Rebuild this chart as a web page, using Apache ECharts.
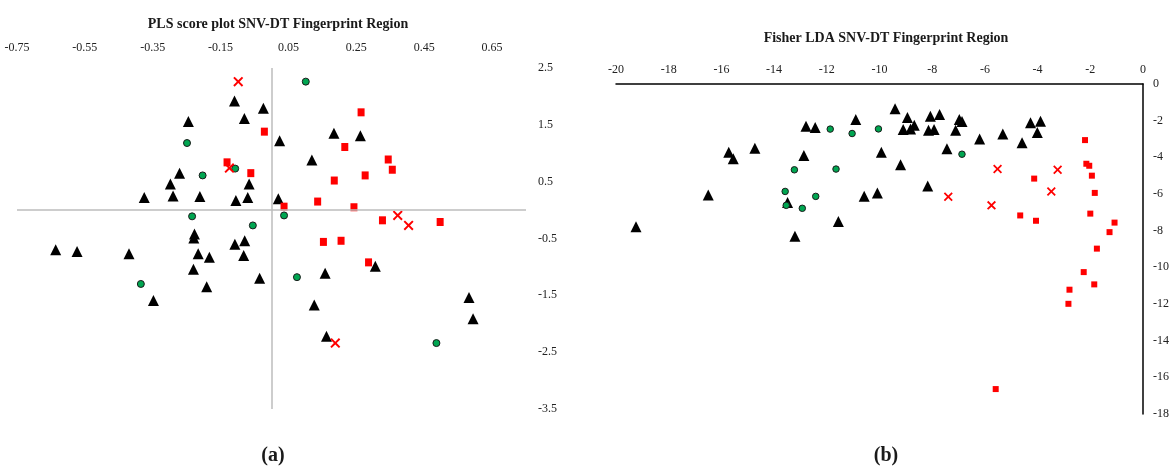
<!DOCTYPE html>
<html><head><meta charset="utf-8">
<script src="https://cdn.jsdelivr.net/npm/echarts@6/dist/echarts.min.js"></script>
<style>html,body{margin:0;padding:0;background:#fff}#c{width:1172px;height:468px}</style>
</head><body><div id="c"></div>
<script>
// ---- Panel (a): PLS score plot ----
const plsTriangles = [
 [-0.109,1.92],[-0.024,1.79],[-0.080,1.61],[-0.245,1.56],[0.184,1.35],[0.262,1.31],[0.024,1.22],
 [0.119,0.88],[-0.271,0.65],[-0.298,0.46],[-0.066,0.46],[-0.375,0.22],[-0.290,0.25],[-0.211,0.24],
 [-0.105,0.17],[-0.070,0.22],[0.020,0.20],[-0.227,-0.42],[-0.229,-0.49],[-0.636,-0.70],[-0.573,-0.73],
 [-0.420,-0.77],[-0.216,-0.77],[-0.183,-0.83],[-0.108,-0.60],[-0.079,-0.54],[-0.082,-0.80],[-0.230,-1.04],
 [-0.035,-1.20],[-0.191,-1.35],[-0.348,-1.59],[0.158,-1.11],[0.306,-0.99],[0.126,-1.67],[0.162,-2.22],
 [0.582,-1.54],[0.594,-1.91]
];
const plsSquares = [
 [0.264,1.72],[-0.021,1.38],[0.216,1.11],[0.344,0.89],[0.356,0.71],[-0.131,0.84],[-0.061,0.65],
 [0.276,0.61],[0.185,0.52],[0.136,0.15],[0.243,0.05],[0.037,0.06],[0.327,-0.18],[0.497,-0.21],
 [0.153,-0.56],[0.205,-0.54],[0.286,-0.92]
];
const plsCircles = [
 [0.101,2.26],[-0.249,1.18],[-0.203,0.61],[-0.107,0.73],[-0.234,-0.11],[0.037,-0.094],[-0.055,-0.27],
 [-0.385,-1.30],[0.075,-1.18],[0.486,-2.34]
];
const plsCrosses = [
 [-0.098,2.26],[-0.124,0.74],[0.372,-0.094],[0.404,-0.27],[0.188,-2.34]
];
// ---- Panel (b): Fisher LDA ----
const ldaTriangles = [
 [-9.41,-1.35],[-8.94,-1.83],[-8.07,-1.76],[-7.72,-1.67],[-10.9,-1.94],[-12.79,-2.30],[-12.44,-2.37],
 [-9.10,-2.48],[-8.82,-2.45],[-8.68,-2.25],[-8.14,-2.52],[-7.93,-2.48],[-6.97,-1.94],[-6.87,-2.05],
 [-7.11,-2.52],[-4.27,-2.12],[-3.89,-2.03],[-4.01,-2.64],[-6.20,-3.00],[-5.32,-2.73],[-4.59,-3.20],
 [-7.44,-3.53],[-9.93,-3.72],[-12.87,-3.90],[-14.73,-3.51],[-15.72,-3.72],[-15.55,-4.08],[-9.20,-4.41],
 [-8.17,-5.56],[-16.5,-6.06],[-13.49,-6.47],[-10.58,-6.12],[-10.08,-5.94],[-11.56,-7.50],[-19.24,-7.78],
 [-13.21,-8.30]
];
const ldaSquares = [
 [-2.20,-3.06],[-2.15,-4.35],[-2.04,-4.46],[-1.94,-5.00],[-4.13,-5.16],[-1.83,-5.94],[-4.66,-7.17],
 [-4.06,-7.46],[-2.00,-7.07],[-1.08,-7.56],[-1.27,-8.08],[-1.75,-8.98],[-2.25,-10.26],[-1.85,-10.93],
 [-2.79,-11.22],[-2.83,-11.99],[-5.59,-16.64]
];
const ldaCircles = [
 [-11.87,-2.46],[-11.04,-2.70],[-10.04,-2.45],[-6.87,-3.83],[-13.23,-4.68],[-11.65,-4.64],
 [-13.58,-5.86],[-13.54,-6.62],[-12.42,-6.13],[-12.93,-6.78]
];
const ldaCrosses = [
 [-5.52,-4.64],[-3.24,-4.68],[-3.48,-5.86],[-7.39,-6.15],[-5.75,-6.62]
];
const titleA = 'PLS score plot SNV-DT Fingerprint Region';
const titleB = 'Fisher LDA SNV-DT Fingerprint Region';

const crossPath = 'path://M0,1.4 L1.4,0 L5,3.6 L8.6,0 L10,1.4 L6.4,5 L10,8.6 L8.6,10 L5,6.4 L1.4,10 L0,8.6 L3.6,5 Z';
const serif = '"Liberation Serif", "Times New Roman", serif';

const chart = echarts.init(document.getElementById('c'), null, {renderer:'canvas'});
function sc(idx, data, symbol, size, color, border){
  const st = {color:color, opacity:1};
  if (border) { st.borderColor = '#1a1a1a'; st.borderWidth = 1; }
  return {type:'scatter', xAxisIndex:idx, yAxisIndex:idx, data:data, symbol:symbol,
    symbolSize:size, itemStyle:st, z:3, silent:true, animation:false};
}
chart.setOption({
  animation:false,
  title:[
    {text:titleA, left:278, top:17, textAlign:'center', padding:0,
     textStyle:{fontFamily:serif, fontWeight:'bold', fontSize:14, color:'#1a1a1a'}},
    {text:titleB, left:886, top:31, textAlign:'center', padding:0,
     textStyle:{fontFamily:serif, fontWeight:'bold', fontSize:14, color:'#1a1a1a'}},
    {text:'({b|a})', left:273, top:446, textAlign:'center', padding:0,
     textStyle:{fontFamily:serif, fontSize:20, color:'#1a1a1a',
       rich:{b:{fontFamily:serif, fontSize:20, fontWeight:'bold', color:'#1a1a1a'}}}},
    {text:'({b|b})', left:886, top:446, textAlign:'center', padding:0,
     textStyle:{fontFamily:serif, fontSize:20, color:'#1a1a1a',
       rich:{b:{fontFamily:serif, fontSize:20, fontWeight:'bold', color:'#1a1a1a'}}}}
  ],
  grid:[
    {left:17, top:68, width:509, height:341, outerBoundsMode:'none', containLabel:false},
    {left:616, top:84, width:527, height:330, outerBoundsMode:'none', containLabel:false}
  ],
  xAxis:[
    {type:'value', gridIndex:0, position:'top', min:-0.75, max:0.75, interval:0.2,
     axisLine:{show:false}, axisTick:{show:false}, splitLine:{show:false},
     axisLabel:{margin:14, showMaxLabel:false, fontFamily:serif, fontSize:12, color:'#222',
       formatter:v=>v.toFixed(2)}},
    {type:'value', gridIndex:1, position:'top', min:-20, max:0, interval:2,
     axisLine:{show:true, onZero:false, lineStyle:{color:'#000', width:1.5}}, axisTick:{show:false},
     splitLine:{show:false},
     axisLabel:{margin:8, fontFamily:serif, fontSize:12, color:'#222'}}
  ],
  yAxis:[
    {type:'value', gridIndex:0, position:'right', min:-3.5, max:2.5, interval:1,
     axisLine:{show:false}, axisTick:{show:false}, splitLine:{show:false},
     axisLabel:{margin:12, fontFamily:serif, fontSize:12, color:'#222', formatter:v=>v.toFixed(1)}},
    {type:'value', gridIndex:1, position:'right', min:-18, max:0, interval:2,
     axisLine:{show:true, onZero:false, lineStyle:{color:'#000', width:1.5}}, axisTick:{show:false},
     splitLine:{show:false},
     axisLabel:{margin:10, fontFamily:serif, fontSize:12, color:'#222'}}
  ],
  series:[
    {type:'scatter', xAxisIndex:0, yAxisIndex:0, data:[], z:1, silent:true,
     markLine:{silent:true, symbol:'none', label:{show:false}, animation:false,
       lineStyle:{color:'#bdbdbd', width:1.5, type:'solid'},
       data:[{xAxis:0},{yAxis:0}]}},
    sc(0, plsTriangles, 'triangle', 11, '#000'),
    sc(0, plsSquares, 'rect', [7,8], '#ff0000'),
    sc(0, plsCircles, 'circle', 7, '#00a651', true),
    sc(0, plsCrosses, crossPath, 10, '#ff0000'),
    sc(1, ldaTriangles, 'triangle', 11, '#000'),
    sc(1, ldaSquares, 'rect', 6, '#ff0000'),
    sc(1, ldaCircles, 'circle', 6.5, '#00a651', true),
    sc(1, ldaCrosses, crossPath, 9, '#ff0000')
  ]
});
</script></body></html>
